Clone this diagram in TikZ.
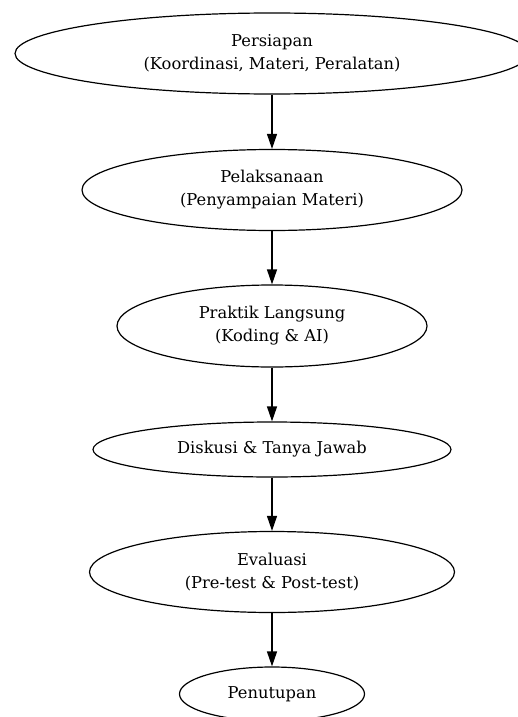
\documentclass[tikz,border=0pt]{standalone}
\usepackage{fontspec}
\setmainfont{DejaVu Serif}
\usepackage{tikz}
\usetikzlibrary{shapes.geometric, arrows.meta, positioning}

\begin{document}
\begin{tikzpicture}[
    x=1pt, y=-1pt,
    phase/.style={draw, ellipse, line width=1.2pt, inner sep=0pt, align=center,
        font=\fontsize{16.3}{23}\selectfont},
    flow/.style={-{Triangle[length=15pt, width=10pt]}, line width=1.2pt}
]
    \useasboundingbox (0,0) rectangle (517,717);

    % Phases
    \node[phase, minimum width=514pt, minimum height=81pt] (persiapan) at (272,53.5) {Persiapan\\(Koordinasi, Materi, Peralatan)};
    \node[phase, minimum width=380pt, minimum height=81pt] (pelaksanaan) at (272,190) {Pelaksanaan\\(Penyampaian Materi)};
    \node[phase, minimum width=310pt, minimum height=82pt] (praktik) at (272,326) {Praktik Langsung\\(Koding \& AI)};
    \node[phase, minimum width=358pt, minimum height=55pt] (diskusi) at (272,449.5) {Diskusi \& Tanya Jawab};
    \node[phase, minimum width=365pt, minimum height=81pt] (evaluasi) at (272,572) {Evaluasi\\(Pre-test \& Post-test)};
    \node[phase, minimum width=185pt, minimum height=54pt] (penutupan) at (272,694) {Penutupan};

    % Flow
    \draw[flow] (persiapan) -- (pelaksanaan);
    \draw[flow] (pelaksanaan) -- (praktik);
    \draw[flow] (praktik) -- (diskusi);
    \draw[flow] (diskusi) -- (evaluasi);
    \draw[flow] (evaluasi) -- (penutupan);
\end{tikzpicture}
\end{document}
